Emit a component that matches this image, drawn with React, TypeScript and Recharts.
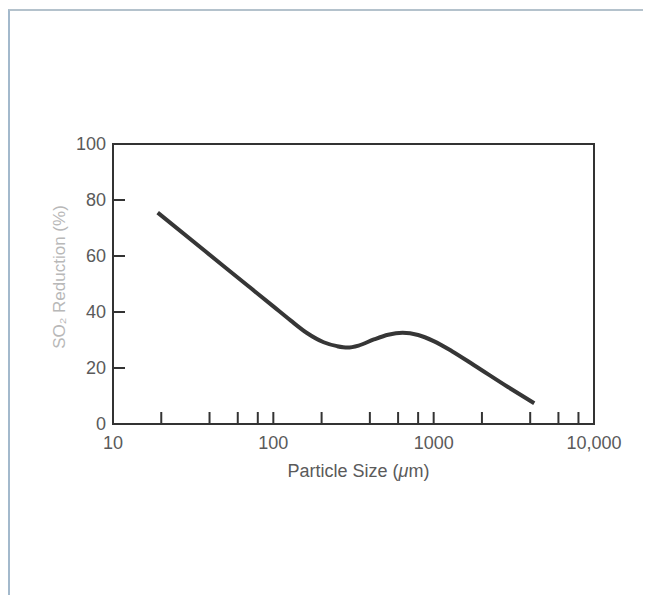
import React from 'react';
import { LineChart, Line, XAxis, YAxis, ReferenceArea, Label } from 'recharts';

const particleSize = [19, 38, 70, 100, 128, 162, 206, 250, 290, 340, 424, 520, 640, 800, 1000, 1300, 1787, 2890, 4240];
const so2Reduction = [75.5, 61.5, 49.2, 42.0, 37.0, 32.5, 29.2, 27.8, 27.3, 28.0, 30.2, 31.9, 32.6, 31.8, 29.6, 26.0, 21.0, 13.3, 7.4];
const xTicks = [10, 20, 40, 60, 80, 100, 200, 400, 600, 800, 1000, 2000, 4000, 6000, 8000, 10000];
const xLabeled = [10, 100, 1000, 10000];
const yTicks = [0, 20, 40, 60, 80, 100];

const data = particleSize.map((x, i) => ({ x, y: so2Reduction[i] }));

const FONT = '"Liberation Sans", Arial, Helvetica, sans-serif';

const fmtX = (v: number) => (xLabeled.includes(v) ? (v >= 10000 ? v.toLocaleString('en-US') : String(v)) : '');

const YTitle = (props: any) => {
  const vb = props.viewBox || {};
  const cx = vb.x + 6;
  const cy = vb.y + vb.height / 2 - 7;
  return (
    <text
      x={cx}
      y={cy}
      transform={`rotate(-90 ${cx} ${cy})`}
      textAnchor="middle"
      dominantBaseline="central"
      fontFamily={FONT}
      fontSize={17}
      fill="#b8b8b8"
    >
      SO₂ Reduction (%)
    </text>
  );
};

const XTitle = (props: any) => {
  const vb = props.viewBox || {};
  const cx = vb.x + vb.width / 2 + 5;
  const cy = vb.y + 47;
  return (
    <text x={cx} y={cy} textAnchor="middle" dominantBaseline="central" fontFamily={FONT} fontSize={18} fill="#5a5a5a">
      Particle Size (<tspan fontStyle="italic">μ</tspan>m)
    </text>
  );
};

export default function App() {
  return (
    <div style={{ position: 'relative', width: 643, height: 587 }}>
      <div
        style={{
          position: 'absolute',
          left: 0,
          top: 1,
          width: 643,
          height: 586,
          borderLeft: '2px solid #a3b9cc',
          borderTop: '2px solid #b4c2cc',
          boxSizing: 'border-box',
        }}
      />
      <div style={{ position: 'absolute', left: 0, top: 0 }}>
        <LineChart
          width={635}
          height={579}
          data={data}
          margin={{ top: 136, right: 49, bottom: 133, left: 45 }}
        >
          <XAxis
            dataKey="x"
            type="number"
            scale="log"
            domain={[10, 10000]}
            allowDataOverflow
            ticks={xTicks}
            interval={0}
            tickFormatter={fmtX}
            tickSize={-12}
            tickMargin={24}
            height={30}
            stroke="#333"
            strokeWidth={2}
            tick={{ fill: '#5a5a5a', fontSize: 18, fontFamily: FONT }}
          >
            <Label content={<XTitle />} />
          </XAxis>
          <YAxis
            type="number"
            domain={[0, 100]}
            ticks={yTicks}
            interval={0}
            tickSize={-12}
            tickMargin={19}
            width={60}
            stroke="#333"
            strokeWidth={2}
            tick={{ fill: '#5a5a5a', fontSize: 18, fontFamily: FONT }}
          >
            <Label content={<YTitle />} />
          </YAxis>
          <ReferenceArea x1={10} x2={10000} y1={0} y2={100} fill="none" stroke="#333" strokeWidth={2} ifOverflow="visible" />
          <Line
            type="monotone"
            dataKey="y"
            stroke="#363636"
            strokeWidth={4}
            dot={false}
            isAnimationActive={false}
          />
        </LineChart>
      </div>
    </div>
  );
}
